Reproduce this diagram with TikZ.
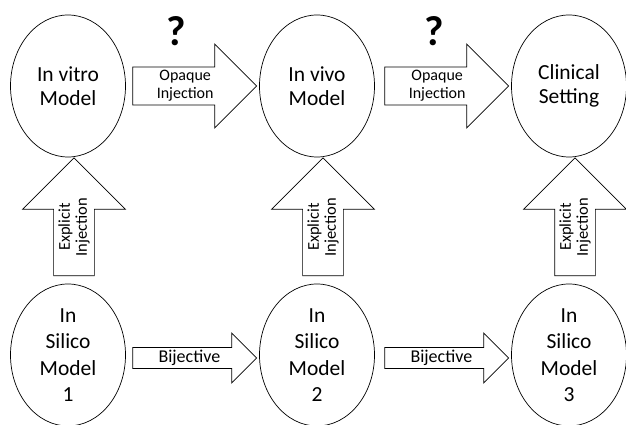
\documentclass[tikz,border=0pt]{standalone}
\usepackage{fontspec}
\setmainfont{Carlito}
\usetikzlibrary{shapes}

\begin{document}
\begin{tikzpicture}[x=1pt,y=1pt,line width=0.7pt,
    model/.style={draw,ellipse,minimum width=115,minimum height=142,inner sep=0,align=center,font=\fontsize{21.5}{24}\selectfont},
    silico/.style={model,font=\fontsize{21.5}{26.5}\selectfont},
    opaque/.style={draw,single arrow,align=center,inner sep=1pt,minimum height=124,minimum width=84,single arrow head extend=20.5,anchor=tip,font=\fontsize{16}{18}\selectfont},
    bijective/.style={draw,single arrow,inner sep=1pt,minimum height=124,minimum width=50,single arrow head extend=12.5,anchor=tip,font=\fontsize{18}{20}\selectfont},
    explicit/.style={draw,single arrow,rotate=90,align=center,inner sep=1pt,minimum height=118,minimum width=103,single arrow head extend=26,anchor=tip,font=\fontsize{16.5}{17}\selectfont},
    query/.style={font=\fontsize{42}{42}\selectfont\bfseries}]
          \useasboundingbox (0,0) rectangle (626,425);
          \node[model] (vitro) at (68,339) {In vitro\\Model}; % top row
          \node[model] (vivo) at (317,339) {In vivo\\Model};
          \node[model] (clinic) at (569,339) {Clinical\\Setting};
          \node[silico] (silico1) at (68,70) {In\\Silico\\Model\\1}; % bottom row
          \node[silico] (silico2) at (317,70) {In\\Silico\\Model\\2};
          \node[silico] (silico3) at (569,70) {In\\Silico\\Model\\3};
          \node[opaque,xshift=-2] (opaque1) at (vivo.west) {Opaque\\Injection}; % opaque arrows
          \node[opaque,xshift=-2] (opaque2) at (clinic.west) {Opaque\\Injection};
          \node[query] (query1) at (176,394) {?};
          \node[query] (query2) at (434,394) {?};
          \node[bijective,xshift=-2,yshift=-3] (bij1) at (silico2.west) {Bijective}; % bijective arrows
          \node[bijective,xshift=-2,yshift=-3] (bij2) at (silico3.west) {Bijective};
          \node[explicit,yshift=-6] (expl1) at (vitro.south) {Explicit\\Injection}; % explicit arrows
          \node[explicit,yshift=-6] (expl2) at (vivo.south) {Explicit\\Injection};
          \node[explicit,yshift=-6] (expl3) at (clinic.south) {Explicit\\Injection};
        \end{tikzpicture}
\end{document}
